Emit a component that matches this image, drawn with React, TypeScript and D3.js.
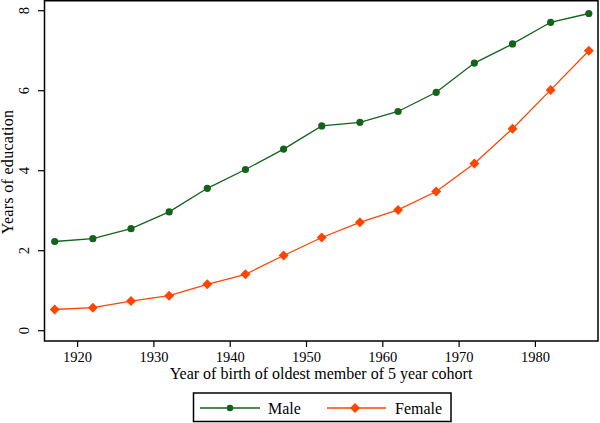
import React from "react";
import * as d3 from "d3";

const years = [1917, 1922, 1927, 1932, 1937, 1942, 1947, 1952, 1957, 1962, 1967, 1972, 1977, 1982, 1987];
const male = [2.23, 2.3, 2.55, 2.97, 3.56, 4.03, 4.54, 5.12, 5.21, 5.48, 5.96, 6.69, 7.17, 7.71, 7.93];
const female = [0.53, 0.575, 0.74, 0.875, 1.16, 1.41, 1.88, 2.33, 2.71, 3.02, 3.48, 4.18, 5.05, 6.02, 7.0];
const xTicks = [1920, 1930, 1940, 1950, 1960, 1970, 1980];
const yTicks = [0, 2, 4, 6, 8];

const W = 600, H = 423;
const left = 44.5, right = 598, top = 0.75, bottom = 341;
const MALE = "#13631a";
const FEMALE = "#ff4500";
const FONT = "'Liberation Serif', 'Times New Roman', serif";

export default function App() {
  const x = d3.scaleLinear().domain([1920, 1980]).range([77.6, 535.4]);
  const y = d3.scaleLinear().domain([0, 8]).range([330.7, 10.7]);
  const line = d3.line<[number, number]>().x(d => x(d[0])).y(d => y(d[1]));
  const mPts: [number, number][] = years.map((yr, i) => [yr, male[i]]);
  const fPts: [number, number][] = years.map((yr, i) => [yr, female[i]]);
  const diamond = (cx: number, cy: number, r: number) =>
    `M${cx},${cy - r}L${cx + r},${cy}L${cx},${cy + r}L${cx - r},${cy}Z`;

  return (
    <svg width={W} height={H} style={{ position: "absolute", left: 0, top: 0, background: "#fff" }} fontFamily={FONT}>
      <rect x={0} y={0} width={W} height={H} fill="#fff" />
      {/* plot frame */}
      <rect x={left} y={top} width={right - left} height={bottom - top} fill="#fff" stroke="#000" strokeWidth={1.5} />
      {/* y axis ticks */}
      {yTicks.map(t => (
        <g key={"y" + t}>
          <line x1={38} x2={left} y1={y(t)} y2={y(t)} stroke="#000" strokeWidth={1.2} />
          <text transform={`translate(28.5,${y(t)}) rotate(-90)`} textAnchor="middle" fontSize={14.5} fill="#000">{t}</text>
        </g>
      ))}
      {/* x axis ticks */}
      {xTicks.map(t => (
        <g key={"x" + t}>
          <line x1={x(t)} x2={x(t)} y1={bottom} y2={347} stroke="#000" strokeWidth={1.2} />
          <text x={x(t)} y={362} textAnchor="middle" fontSize={14.5} fill="#000">{t}</text>
        </g>
      ))}
      <text x={321} y={379} textAnchor="middle" fontSize={16} fill="#000">Year of birth of oldest member of 5 year cohort</text>
      <text transform={`translate(13,172) rotate(-90)`} textAnchor="middle" fontSize={16} letterSpacing={0.3} fill="#000">Years of education</text>
      {/* series */}
      <path d={line(fPts) || ""} fill="none" stroke={FEMALE} strokeWidth={1.3} />
      <path d={line(mPts) || ""} fill="none" stroke={MALE} strokeWidth={1.3} />
      {fPts.map((p, i) => (
        <path key={"f" + i} d={diamond(x(p[0]), y(p[1]), 5)} fill={FEMALE} />
      ))}
      {mPts.map((p, i) => (
        <circle key={"m" + i} cx={x(p[0])} cy={y(p[1])} r={3.6} fill={MALE} />
      ))}
      {/* legend */}
      <rect x={193.5} y={393} width={257.5} height={28.5} fill="#fff" stroke="#000" strokeWidth={1.5} />
      <line x1={200} x2={260} y1={408} y2={408} stroke={MALE} strokeWidth={1.3} />
      <circle cx={230} cy={408} r={3.3} fill={MALE} />
      <text x={268} y={413.5} fontSize={16} fill="#000">Male</text>
      <line x1={327} x2={386} y1={408} y2={408} stroke={FEMALE} strokeWidth={1.3} />
      <path d={diamond(355, 408, 5)} fill={FEMALE} />
      <text x={395} y={413.5} fontSize={16} fill="#000">Female</text>
    </svg>
  );
}
